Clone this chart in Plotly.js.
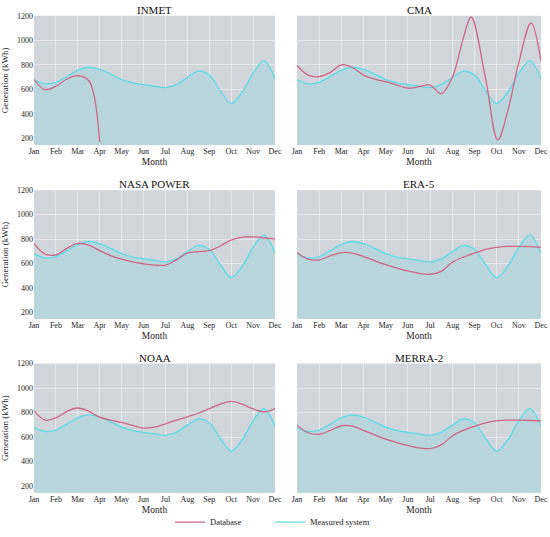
<!DOCTYPE html>
<html>
<head>
<meta charset="utf-8">
<script src="https://cdn.plot.ly/plotly-3.0.1.min.js"></script>
<style>html,body{margin:0;padding:0;background:#fff;}#chart{width:550px;height:537px;}</style>
</head>
<body>
<div id="chart"></div>
<script>
// ---- data ----
const monthLabels = ['Jan','Feb','Mar','Apr','May','Jun','Jul','Aug','Sep','Oct','Nov','Dec'];
const monthTicks = [0,1,2,3,4,5,6,7,8,9,10,11];
// sample positions along the month axis (0 = Jan ... 11 = Dec), half-month steps
const sampleX = [0,0.5,1,1.5,2,2.5,3,3.5,4,4.5,5,5.5,6,6.5,7,7.5,8,8.5,9,9.5,10,10.5,11];

const measured = [680,645,657,705,757,780,762,724,680,653,638,625,614,638,697,747,716,590,485,576,732,832,685];

const inmetX = [0,0.5,1,1.5,2,2.5,2.75,3];
const inmet  = [680,598,625,684,711,670,540,170];

const cmaX = [0,0.5,1,1.5,2,2.5,3,3.5,4,4.5,5,5.5,6,6.5,7,7.5,7.85,8.5,9.05,9.5,10,10.55,11];
const cma  = [797,716,703,738,800,778,716,684,662,635,609,622,635,563,697,1020,1190,690,187,420,820,1141,830];

const nasa   = [765,678,670,724,765,751,705,665,635,614,598,587,587,630,684,697,705,743,791,816,818,810,800];
const era5   = [689,635,630,662,689,684,657,622,590,563,539,520,512,536,609,652,684,716,732,740,740,738,732];
const noaa   = [816,738,756,810,837,810,762,738,719,695,673,681,708,738,765,794,832,869,891,869,829,805,832];
const merra2 = [697,635,622,654,692,689,654,617,582,555,531,512,506,536,609,654,687,716,732,738,738,735,732];

const panelTitles = ['INMET','CMA','NASA POWER','ERA-5','NOAA','MERRA-2'];
const databaseX = [inmetX, cmaX, sampleX, sampleX, sampleX, sampleX];
const databaseY = [inmet, cma, nasa, era5, noaa, merra2];
const yTicks = [200,400,600,800,1000,1200];

// ---- styles ----
const FONT = 'Liberation Serif, Times New Roman, serif';
const RED = '#cf6585';
const CYAN = '#5ddbe2';
const FILL = '#b9d6dc';
const BG = '#d1d6dd';
const W = 550, H = 537;

const xDom = [[34/W, 275/W],[297/W, 541/W]];
const yDom = [[1-147/H, 1-16/H],[1-323.3/H, 1-192.7/H],[1-499.3/H, 1-368.3/H]];
const titleY = [1-10/H, 1-186/H, 1-362.7/H];

const traces = [];
const layout = {
  width: W, height: H,
  margin: {l:0, r:0, t:0, b:0},
  paper_bgcolor: '#ffffff',
  plot_bgcolor: BG,
  font: {family: FONT, color: '#222222', size: 8},
  showlegend: true,
  legend: {orientation: 'h', x: 170/W, xanchor: 'left', y: 1-529/H, yanchor: 'middle',
           entrywidth: 55, entrywidthmode: 'pixels',
           font: {family: FONT, size: 8.5, color: '#222'}, bgcolor: 'rgba(0,0,0,0)'},
  annotations: []
};

for (let i = 0; i < 6; i++) {
  const row = Math.floor(i/2), col = i % 2;
  const n = i + 1;
  const xa = n === 1 ? 'x' : 'x' + n;
  const ya = n === 1 ? 'y' : 'y' + n;
  // area under the measured curve
  traces.push({
    x: sampleX, y: measured, xaxis: xa, yaxis: ya, type: 'scatter', mode: 'lines',
    name: 'Measured system', showlegend: false, hoverinfo: 'skip',
    line: {color: 'rgba(0,0,0,0)', width: 0, shape: 'spline', smoothing: 1},
    fill: 'tozeroy', fillcolor: FILL
  });
  // measured line
  traces.push({
    x: sampleX, y: measured, xaxis: xa, yaxis: ya, type: 'scatter', mode: 'lines',
    name: 'Measured system', legendrank: 2, showlegend: i === 0,
    line: {color: CYAN, width: 1.3, shape: 'spline', smoothing: 1}
  });
  traces.push({
    x: databaseX[i], y: databaseY[i], xaxis: xa, yaxis: ya, type: 'scatter', mode: 'lines',
    name: 'Database', legendrank: 1, showlegend: i === 0,
    line: {color: RED, width: 1.3, shape: 'spline', smoothing: 1}
  });
  const xKey = n === 1 ? 'xaxis' : 'xaxis' + n;
  const yKey = n === 1 ? 'yaxis' : 'yaxis' + n;
  layout[xKey] = {
    domain: xDom[col], anchor: ya, range: [0, 11],
    tickmode: 'array', tickvals: monthTicks, ticktext: monthLabels,
    ticks: '', showgrid: true, gridcolor: 'rgba(255,255,255,0.45)', gridwidth: 1,
    zeroline: false, showline: false,
    tickfont: {family: FONT, size: 8, color: '#222'},
    title: {text: 'Month', font: {family: FONT, size: 9.5, color: '#222'}, standoff: 3}
  };
  layout[yKey] = {
    domain: yDom[row], anchor: xa, range: [145, 1200],
    tickmode: 'array', tickvals: yTicks,
    ticks: '', showgrid: true, gridcolor: 'rgba(255,255,255,0.45)', gridwidth: 1,
    zeroline: false, showline: false,
    showticklabels: col === 0,
    tickfont: {family: FONT, size: 8, color: '#222'},
    title: col === 0 ? {text: 'Generation (kWh)', font: {family: FONT, size: 9, color: '#222'}, standoff: 6} : {text: ''}
  };
  layout.annotations.push({
    text: panelTitles[i], xref: 'paper', yref: 'paper',
    x: (xDom[col][0] + xDom[col][1]) / 2, y: titleY[row],
    xanchor: 'center', yanchor: 'middle', showarrow: false,
    font: {family: FONT, size: 11, color: '#111'}
  });
}

Plotly.newPlot('chart', traces, layout, {staticPlot: true, displayModeBar: false});
</script>
</body>
</html>
